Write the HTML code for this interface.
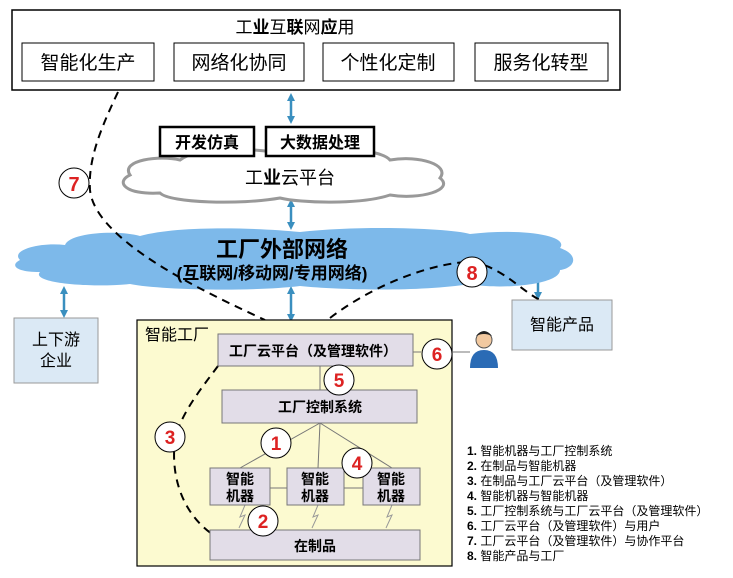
<!DOCTYPE html>
<html><head><meta charset="utf-8"><style>
body{margin:0;background:#fff}
svg{display:block;font-family:"Liberation Sans","Noto Sans CJK SC",sans-serif}
</style></head><body>
<svg width="733" height="578" viewBox="0 0 733 578" xmlns="http://www.w3.org/2000/svg">
<defs>
<marker id="a" markerWidth="8" markerHeight="8" refX="4" refY="4" orient="auto-start-reverse" markerUnits="userSpaceOnUse"><path d="M0,0 L8,4 L0,8 Z" fill="#3a8fbf"/></marker>
</defs>
<rect x="12" y="10" width="608" height="80" fill="#fff" stroke="#000" stroke-width="1.5"/>
<text x="295" y="33" font-size="17" text-anchor="middle">工<tspan font-weight="bold">业</tspan>互<tspan font-weight="bold">联</tspan>网<tspan font-weight="bold">应</tspan>用</text>
<g font-size="19" text-anchor="middle" fill="#000">
<rect x="22" y="43" width="132" height="38" fill="#fff" stroke="#000"/><text x="88" y="69">智能化生产</text>
<rect x="174" y="43" width="130" height="38" fill="#fff" stroke="#000"/><text x="239" y="69">网络化协同</text>
<rect x="323" y="43" width="131" height="38" fill="#fff" stroke="#000"/><text x="388" y="69">个性化定制</text>
<rect x="475" y="43" width="133" height="38" fill="#fff" stroke="#000"/><text x="541" y="69">服务化转型</text>
</g>
<g stroke="#3a8fbf" stroke-width="2.5" fill="none">
<line x1="291" y1="97" x2="291" y2="120" marker-start="url(#a)" marker-end="url(#a)"/>
<line x1="291" y1="203" x2="291" y2="226" marker-start="url(#a)" marker-end="url(#a)"/>
<line x1="291" y1="290" x2="291" y2="318" marker-start="url(#a)" marker-end="url(#a)"/>
<line x1="64" y1="290" x2="64" y2="314" marker-start="url(#a)" marker-end="url(#a)"/>
<line x1="538" y1="270" x2="538" y2="296" marker-start="url(#a)" marker-end="url(#a)"/>
</g>
<path d="M130,175 C120,160 160,155 180,160 C200,145 260,148 290,155 C320,145 380,148 390,160 C420,155 450,165 440,178 C455,190 420,200 390,195 C360,205 300,203 280,198 C240,205 170,203 160,193 C125,195 115,182 130,175 Z" fill="#fff" stroke="#999" stroke-width="3"/>
<text x="290" y="184" font-size="18" text-anchor="middle">工<tspan font-weight="bold">业</tspan>云平台</text>
<rect x="160" y="127" width="94" height="29" fill="#fff" stroke="#000" stroke-width="2.5"/>
<text x="207" y="148" font-size="16" font-weight="bold" text-anchor="middle">开发仿真</text>
<rect x="266" y="127" width="108" height="29" fill="#fff" stroke="#000" stroke-width="2.5"/>
<text x="320" y="148" font-size="16" font-weight="bold" text-anchor="middle">大数据处理</text>
<path d="M20,260 C10,250 40,242 65,245 C70,232 120,230 140,236 C180,225 260,228 300,232 C360,225 450,228 470,234 C520,228 570,235 560,248 C580,255 575,268 560,270 C560,285 500,290 470,284 C420,292 340,290 300,286 C250,292 160,290 130,284 C90,288 30,283 40,272 C15,272 10,265 20,260 Z" fill="#7db9ea"/>
<text x="282" y="257" font-size="22" font-weight="bold" text-anchor="middle">工厂外部网络</text>
<text x="272" y="279" font-size="17" font-weight="bold" text-anchor="middle">(互联网/移动网/专用网络)</text>
<g stroke="#000" stroke-width="2" stroke-dasharray="8,6" fill="none">
<path d="M118,92 C100,130 88,160 90,190 C95,240 200,290 265,320"/>
<path d="M330,318 C380,280 440,262 470,262 C500,265 520,290 540,300"/>
</g>
<circle cx="74" cy="183" r="15" fill="#fff" stroke="#000"/><text x="74" y="191" font-size="20" font-weight="bold" fill="#d22" text-anchor="middle">7</text>
<circle cx="472" cy="272" r="15" fill="#fff" stroke="#000"/><text x="472" y="280" font-size="20" font-weight="bold" fill="#d22" text-anchor="middle">8</text>
<rect x="14" y="318" width="84" height="65" fill="#dbe9f5" stroke="#999"/>
<text x="56" y="345" font-size="16" text-anchor="middle">上下游</text><text x="56" y="366" font-size="16" text-anchor="middle">企业</text>
<rect x="512" y="300" width="100" height="50" fill="#dbe9f5" stroke="#999"/>
<text x="562" y="330" font-size="16" text-anchor="middle">智能产品</text>
<rect x="137" y="320" width="315" height="246" fill="#fcfad0" stroke="#000" stroke-width="1.2"/>
<text x="145" y="340" font-size="16">智能工厂</text>
<path d="M218,366 C200,390 180,415 175,440 C170,480 185,515 212,534" stroke="#000" stroke-width="2" stroke-dasharray="8,6" fill="none"/>
<g stroke="#777" stroke-width="1" fill="none">
<line x1="320" y1="366" x2="320" y2="390"/>
<line x1="320" y1="423" x2="240" y2="468"/><line x1="320" y1="423" x2="318" y2="468"/><line x1="320" y1="423" x2="392" y2="468"/>
<line x1="270" y1="488" x2="287" y2="488"/><line x1="344" y1="488" x2="363" y2="488"/>
<line x1="413" y1="352" x2="421" y2="352"/><line x1="453" y1="352" x2="470" y2="352"/>
<path d="M245,505 l-5,12 5,-2 -6,13" stroke="#999"/><path d="M318,505 l-5,12 5,-2 -6,13" stroke="#999"/><path d="M392,505 l-5,12 5,-2 -6,13" stroke="#999"/>
</g>
<g fill="#e2dde8" stroke="#777">
<rect x="218" y="334" width="195" height="32"/>
<rect x="222" y="390" width="195" height="33"/>
<rect x="210" y="468" width="60" height="37"/><rect x="287" y="468" width="57" height="37"/><rect x="363" y="468" width="57" height="37"/>
<rect x="210" y="530" width="210" height="30"/>
</g>
<g font-weight="bold" text-anchor="middle" font-size="14">
<text x="313" y="356">工厂云平台（及管理软件）</text>
<text x="320" y="412">工厂控制系统</text>
<text x="240" y="484">智能</text><text x="240" y="501">机器</text>
<text x="315" y="484">智能</text><text x="315" y="501">机器</text>
<text x="391" y="484">智能</text><text x="391" y="501">机器</text>
<text x="315" y="551">在制品</text>
</g>
<g fill="#fff" stroke="#000">
<circle cx="437" cy="354" r="15"/><circle cx="339" cy="380" r="15"/><circle cx="276" cy="443" r="15"/>
<circle cx="357" cy="463" r="15"/><circle cx="170" cy="437" r="15"/><circle cx="263" cy="521" r="15"/>
</g>
<g font-size="19" font-weight="bold" fill="#d22" text-anchor="middle">
<text x="437" y="361">6</text><text x="339" y="387">5</text><text x="276" y="450">1</text>
<text x="357" y="470">4</text><text x="170" y="444">3</text><text x="263" y="528">2</text>
</g>
<circle cx="484" cy="340" r="8" fill="#f2c9a0" stroke="#555"/>
<path d="M476,336 q8,-10 16,0 q-8,-4 -16,0z" fill="#222"/>
<path d="M470,368 q0,-18 14,-18 q14,0 14,18 z" fill="#2a6bb5"/>
<g font-size="12" fill="#000">
<text x="467" y="455"><tspan font-weight="bold">1.</tspan>   智能机器与工厂控制系统</text>
<text x="467" y="470"><tspan font-weight="bold">2.</tspan>   在制品与智能机器</text>
<text x="467" y="485"><tspan font-weight="bold">3.</tspan>   在制品与工厂云平台（及管理软件）</text>
<text x="467" y="500"><tspan font-weight="bold">4.</tspan>   智能机器与智能机器</text>
<text x="467" y="515"><tspan font-weight="bold">5.</tspan>   工厂控制系统与工厂云平台（及管理软件）</text>
<text x="467" y="530"><tspan font-weight="bold">6.</tspan>   工厂云平台（及管理软件）与用户</text>
<text x="467" y="545"><tspan font-weight="bold">7.</tspan>   工厂云平台（及管理软件）与协作平台</text>
<text x="467" y="560"><tspan font-weight="bold">8.</tspan>   智能产品与工厂</text>
</g>
</svg>
</body></html>
